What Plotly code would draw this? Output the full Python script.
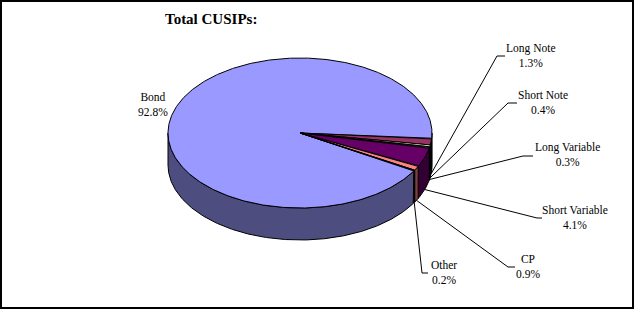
import numpy as np
import plotly.graph_objects as go

# ---- data ----
categories = ["Bond", "Long Note", "Short Note", "Long Variable",
              "Short Variable", "CP", "Other"]
shares = [92.8, 1.3, 0.4, 0.3, 4.1, 0.9, 0.2]
top_colors = ["#9999ff", "#993366", "#ffffcc", "#ccffff",
              "#660066", "#ff8080", "#0066cc"]
side_colors = ["#4d4d80", "#4d1a33", "#808066", "#668080",
               "#330033", "#804040", "#003366"]
title_text = "Total CUSIPs:"

# ---- pie geometry (pixel-like axis units) ----
W, H = 635, 310
cx, cy = 300.0, 133.0
a, b = 132.0, 75.0
depth = 32.0
start = -4.5 + 360 * shares[0] / 100.0   # angle where Bond begins (ccw from 3 o'clock)

vals = np.array(shares, dtype=float)
spans = vals / vals.sum() * 360.0
starts = start - np.concatenate([[0], np.cumsum(spans)[:-1]])
ends = starts - spans


def pt(theta_deg, dz=0.0):
    t = np.radians(theta_deg)
    return cx + a * np.cos(t), cy - b * np.sin(t) + dz


fig = go.Figure()

# side walls (only the front half, where sin(theta) < 0)
for i in range(len(shares)):
    t_hi, t_lo = starts[i], ends[i]
    for k in range(-2, 2):
        lo = max(t_lo, -180 + 360 * k)
        hi = min(t_hi, 0 + 360 * k)
        if hi - lo <= 1e-6:
            continue
        th = np.linspace(lo, hi, max(int((hi - lo) * 2), 2))
        xs_t, ys_t = pt(th)
        xs_b, ys_b = pt(th[::-1], depth)
        xs = np.concatenate([xs_t, xs_b, xs_t[:1]])
        ys = np.concatenate([ys_t, ys_b, ys_t[:1]])
        fig.add_trace(go.Scatter(x=xs, y=ys, mode="lines", fill="toself",
                                 fillcolor=side_colors[i],
                                 line=dict(color="black", width=1),
                                 hoverinfo="skip", showlegend=False))

# top faces
for i in range(len(shares)):
    th = np.linspace(ends[i], starts[i], max(int(spans[i] * 2), 3))
    xs, ys = pt(th)
    xs = np.concatenate([[cx], xs, [cx]])
    ys = np.concatenate([[cy], ys, [cy]])
    fig.add_trace(go.Scatter(x=xs, y=ys, mode="lines", fill="toself",
                             fillcolor=top_colors[i],
                             line=dict(color="black", width=1),
                             name=categories[i], hoverinfo="name",
                             showlegend=False))

# labels with leader lines
label_pos = {  # text centre, elbow start, elbow end
    "Bond": ((153, 104), None, None),
    "Long Note": ((531, 55), (497, 56), (505, 56)),
    "Short Note": ((543, 102), (508, 103), (517, 103)),
    "Long Variable": ((567, 154), (523, 156), (533, 156)),
    "Short Variable": ((575, 217), (537, 218), (542, 218)),
    "CP": ((528, 266), (508, 267), (515, 267)),
    "Other": ((444, 272), (422, 273), (428, 273)),
}
font = dict(family="Liberation Serif, Times New Roman, serif", size=11.5, color="black")
for i, cat in enumerate(categories):
    (tx, ty), e1, e2 = label_pos[cat]
    if e1 is not None:
        mid = (starts[i] + ends[i]) / 2.0
        sx, sy = pt(mid, depth)
        fig.add_trace(go.Scatter(x=[sx, e1[0], e2[0]], y=[sy, e1[1], e2[1]],
                                 mode="lines", line=dict(color="black", width=1),
                                 hoverinfo="skip", showlegend=False))
    fig.add_annotation(x=tx, y=ty, xref="x", yref="y", showarrow=False,
                       text=f"{cat}<br>{shares[i]:.1f}%", font=font,
                       xanchor="center", yanchor="middle", align="center")

fig.add_annotation(x=211, y=19, xref="x", yref="y", showarrow=False,
                   text=f"<b>{title_text}</b>",
                   font=dict(family="Liberation Serif, Times New Roman, serif",
                             size=15, color="black"),
                   xanchor="center", yanchor="middle")

fig.add_shape(type="rect", xref="x", yref="y", x0=1, y0=1, x1=633, y1=308,
              line=dict(color="black", width=2), fillcolor="rgba(0,0,0,0)")

fig.update_layout(
    width=W, height=H, margin=dict(l=0, r=0, t=0, b=0),
    paper_bgcolor="white", plot_bgcolor="white",
    xaxis=dict(range=[0, W], visible=False, fixedrange=True),
    yaxis=dict(range=[H, 0], visible=False, fixedrange=True),
    showlegend=False,
)

fig.write_html("out.html")
